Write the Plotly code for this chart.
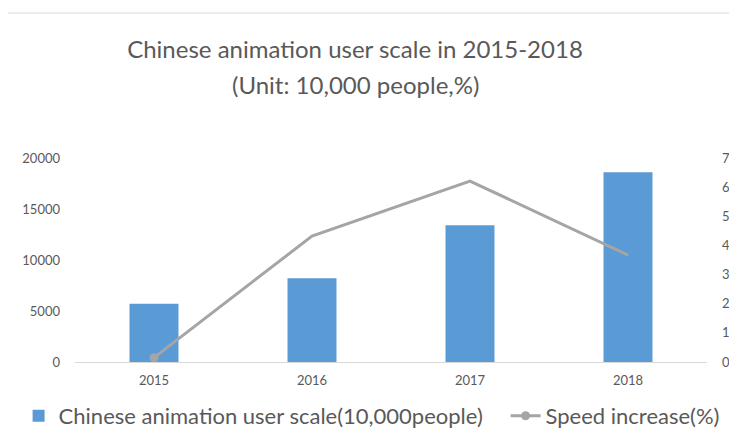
import plotly.graph_objects as go

years = ["2015", "2016", "2017", "2018"]
users = [5700, 8200, 13400, 18600]
growth = [1.5, 43.2, 62.1, 36.7]
left_ticks = [0, 5000, 10000, 15000, 20000]
right_ticks = [0, 10, 20, 30, 40, 50, 60, 70]
title_line1 = "Chinese animation user scale in 2015-2018"
title_line2 = "(Unit: 10,000 people,%)"

FONT = "Lato"
GRAY = "#595959"
OFF = 8  # page body margin
L, T, PW, PH = 75, 158, 632, 204  # plot box in page pixels

fig = go.Figure()
fig.add_trace(go.Bar(
    x=years, y=users, name="Chinese animation user scale(10,000people)",
    marker=dict(color="#5b9bd5", line=dict(width=0)), yaxis="y", legend="legend",
))
fig.add_trace(go.Scatter(
    x=years, y=growth, mode="lines", yaxis="y2", showlegend=False,
    line=dict(color="#a5a5a5", width=3),
))
fig.add_trace(go.Scatter(
    x=years[:1], y=growth[:1], mode="markers", yaxis="y2", showlegend=False,
    marker=dict(color="#a5a5a5", size=9),
))
fig.add_trace(go.Scatter(
    x=[None], y=[None], mode="lines+markers", yaxis="y2", name="Speed increase(%)",
    line=dict(color="#a5a5a5", width=3), marker=dict(color="#a5a5a5", size=9),
    legend="legend2",
))

legend_common = dict(
    orientation="h", xanchor="left", y=(T + PH - 416) / PH, yanchor="middle",
    font=dict(family=FONT, size=22, color=GRAY), itemwidth=30,
    bgcolor="rgba(0,0,0,0)",
)

fig.update_layout(
    width=737, height=438,
    margin=dict(l=L - OFF, r=737 - L - PW + OFF, t=T - OFF, b=438 - T - PH + OFF,
                autoexpand=False),
    paper_bgcolor="white", plot_bgcolor="white",
    font=dict(family=FONT, color=GRAY, size=13),
    bargap=0.69,
    title=dict(
        text=title_line1,
        x=(355 - OFF) / 737, xanchor="center", xref="container",
        y=1 - (50 - OFF) / 438, yanchor="middle", yref="container",
        font=dict(family=FONT, size=24, color=GRAY),
    ),
    annotations=[dict(
        text=title_line2, xref="paper", yref="paper",
        x=(355 - L) / PW, y=(T + PH - 85) / PH, xanchor="center", yanchor="middle",
        showarrow=False, font=dict(family=FONT, size=24, color=GRAY),
    )],
    xaxis=dict(
        type="category", showgrid=False, showline=True, linecolor="#d9d9d9",
        linewidth=1, ticks="", ticklabelstandoff=6,
        tickfont=dict(size=13, color=GRAY), automargin=False,
    ),
    yaxis=dict(
        range=[0, 20000], tickvals=left_ticks, tickformat="d", showgrid=False,
        zeroline=False, showline=False, ticks="", ticklabelstandoff=14,
        tickfont=dict(size=13, color=GRAY), automargin=False,
    ),
    yaxis2=dict(
        range=[0, 70], tickvals=right_ticks, tickformat="d", overlaying="y",
        side="right", showgrid=False, zeroline=False, showline=False, ticks="",
        ticklabelstandoff=14, tickfont=dict(size=13, color=GRAY), automargin=False,
    ),
    legend=dict(x=(60 - 41.4 - L) / PW, **legend_common),
    legend2=dict(x=(547 - 41.4 - L) / PW, **legend_common),
    shapes=[dict(
        type="rect", xref="paper", yref="paper",
        x0=(6 - L) / PW, x1=(745 - L) / PW,
        y0=(T + PH - 445) / PH, y1=(T + PH - 13) / PH,
        line=dict(color="#d9d9d9", width=1), fillcolor="rgba(0,0,0,0)",
        layer="below",
    )],
)

fig.write_html("out.html")
